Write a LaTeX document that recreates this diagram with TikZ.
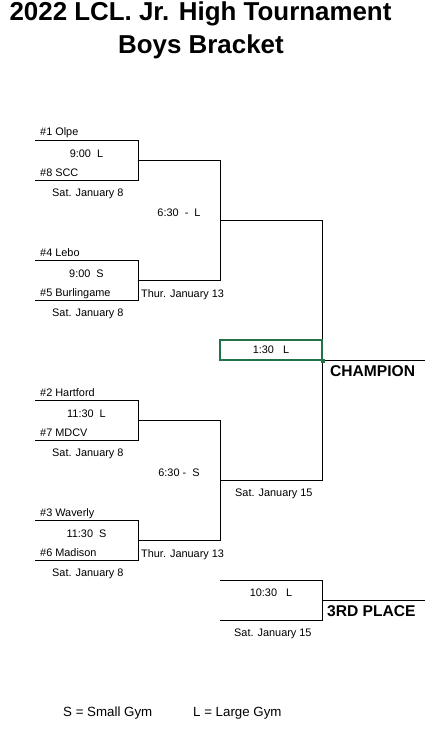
\documentclass[tikz,border=0pt]{standalone}
\usepackage{fontspec}
\setmainfont{Liberation Sans}
\usetikzlibrary{positioning}
\definecolor{boxGreen}{HTML}{217346}
\tikzset{
  ttl/.style={anchor=base, inner sep=0pt, font=\fontsize{25.9bp}{28bp}\selectfont\bfseries},
  team/.style={anchor=base west, inner sep=0pt, font=\fontsize{10.9bp}{13bp}\selectfont},
  gtime/.style={anchor=base, inner sep=0pt, font=\fontsize{10.9bp}{13bp}\selectfont},
  gdate/.style={anchor=base west, inner sep=0pt, font=\fontsize{10.9bp}{13bp}\selectfont},
  legend/.style={anchor=base west, inner sep=0pt, font=\fontsize{13.3bp}{15bp}\selectfont},
  place/.style={anchor=base west, inner sep=0pt, font=\fontsize{15.6bp}{18bp}\selectfont\bfseries},
  brk/.style={line width=0.9bp, black},
  finalbox/.style={draw=boxGreen, line width=1.6bp, minimum width=102bp, minimum height=20bp,
        inner sep=0pt, font=\fontsize{10.9bp}{13bp}\selectfont},
}
\begin{document}
\begin{tikzpicture}[x=1bp,y=-1bp]
  \useasboundingbox (0,0) rectangle (440,730);
  % title
  \node[ttl] (t1) at (200.5,21) {2022 LCL. Jr. High Tournament};
  \node[ttl] (t2) at (201,54) {Boys Bracket};
  % first round, upper half
  \coordinate (m1a) at (35,140); \coordinate (m1b) at (138,140);
  \coordinate (m1c) at (35,180); \coordinate (m1d) at (138,180);
  \coordinate (m2a) at (35,260); \coordinate (m2b) at (138,260);
  \coordinate (m2c) at (35,300); \coordinate (m2d) at (138,300);
  \draw[brk] (m1a) -- (m1b) -- (m1d) -- (m1c);
  \draw[brk] (m2a) -- (m2b) -- (m2d) -- (m2c);
  \node[team] (olpe) at (40,136) {\#1 Olpe};
  \node[gtime] (g1) at (86.5,157) {9:00\ \ L};
  \node[team] (scc) at (40,176) {\#8 SCC};
  \node[gdate] (d1) at (52,196) {Sat. January 8};
  \node[team] (lebo) at (40,256) {\#4 Lebo};
  \node[gtime] (g2) at (86.5,277) {9:00\ \ S};
  \node[team] (burl) at (40,296) {\#5 Burlingame};
  \node[gdate] (d2) at (52,316) {Sat. January 8};
  % first round, lower half
  \coordinate (m3a) at (35,400); \coordinate (m3b) at (138,400);
  \coordinate (m3c) at (35,440); \coordinate (m3d) at (138,440);
  \coordinate (m4a) at (35,520); \coordinate (m4b) at (138,520);
  \coordinate (m4c) at (35,560); \coordinate (m4d) at (138,560);
  \draw[brk] (m3a) -- (m3b) -- (m3d) -- (m3c);
  \draw[brk] (m4a) -- (m4b) -- (m4d) -- (m4c);
  \node[team] (hart) at (40,396) {\#2 Hartford};
  \node[gtime] (g3) at (86.5,417) {11:30\ \ L};
  \node[team] (mdcv) at (40,436) {\#7 MDCV};
  \node[gdate] (d3) at (52,456) {Sat. January 8};
  \node[team] (wav) at (40,516) {\#3 Waverly};
  \node[gtime] (g4) at (86.5,537) {11:30\ \ S};
  \node[team] (madi) at (40,556) {\#6 Madison};
  \node[gdate] (d4) at (52,576) {Sat. January 8};
  % semifinals
  \coordinate (m1o) at (138,160); \coordinate (s1a) at (220,160);
  \coordinate (m2o) at (138,280); \coordinate (s1b) at (220,280);
  \draw[brk] (m1o) -- (s1a) -- (s1b) -- (m2o);
  \node[gtime] (g5) at (179,216) {6:30\ \ -\ \ L};
  \node[gdate] (d5) at (141,297) {Thur. January 13};
  \coordinate (m3o) at (138,420); \coordinate (s2a) at (220,420);
  \coordinate (m4o) at (138,540); \coordinate (s2b) at (220,540);
  \draw[brk] (m3o) -- (s2a) -- (s2b) -- (m4o);
  \node[gtime] (g6) at (179,476) {6:30 -\ \ S};
  \node[gdate] (d6) at (141,557) {Thur. January 13};
  % final
  \coordinate (s1o) at (220,220); \coordinate (f1a) at (322,220);
  \coordinate (s2o) at (220,480); \coordinate (f1b) at (322,480);
  \coordinate (fo) at (322,360); \coordinate (champ) at (425,360);
  \draw[brk] (s1o) -- (f1a) -- (f1b) -- (s2o);
  \draw[brk] (fo) -- (champ);
  \node[finalbox] (fbox) at (271,350) {1:30\ \ \ L};
  \fill[boxGreen] ([xshift=-1.8bp,yshift=-1.8bp]fbox.south east) rectangle ([xshift=1.8bp,yshift=1.8bp]fbox.south east);
  \node[place] (champion) at (330,376) {CHAMPION};
  \node[gdate] (d7) at (235,496) {Sat. January 15};
  % third place
  \coordinate (p1a) at (220,580); \coordinate (p1b) at (322,580);
  \coordinate (p1c) at (220,620); \coordinate (p1d) at (322,620);
  \coordinate (p1o) at (322,600); \coordinate (third) at (425,600);
  \draw[brk] (p1a) -- (p1b) -- (p1d) -- (p1c);
  \draw[brk] (p1o) -- (third);
  \node[gtime] (g7) at (271,596) {10:30\ \ \ L};
  \node[place] (thirdpl) at (327,616) {3RD PLACE};
  \node[gdate] (d8) at (234,636) {Sat. January 15};
  % legend
  \node[legend] (leg1) at (63,716) {S = Small Gym};
  \node[legend] (leg2) at (193,716) {L = Large Gym};
\end{tikzpicture}
\end{document}
